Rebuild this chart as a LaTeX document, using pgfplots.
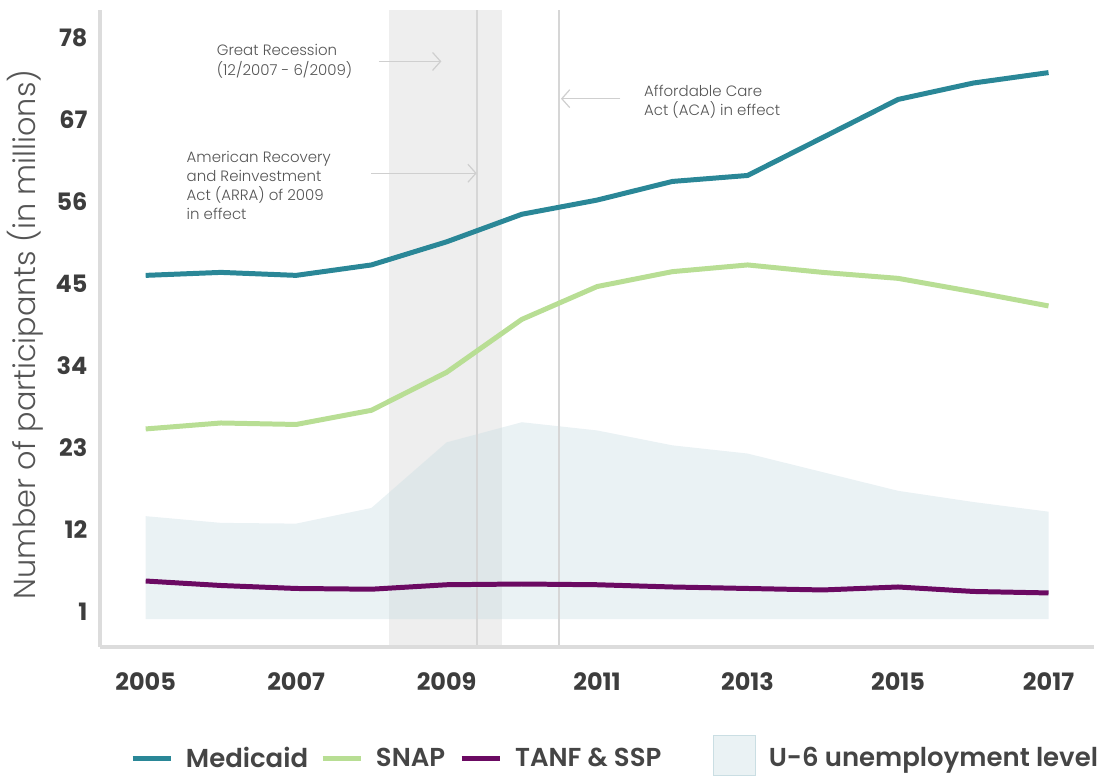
\documentclass[border=0pt]{standalone}
\usepackage{fontspec}
\setmainfont{Poppins}
\newfontfamily\lightfont{Poppins}[UprightFont={* Light}]
\newfontfamily\semifont{Poppins}[UprightFont={* SemiBold}]
\usepackage{pgfplots}
\pgfplotsset{compat=1.18}
\usetikzlibrary{arrows.meta}
\definecolor{medicaid}{HTML}{2A8797}
\definecolor{snap}{HTML}{B8DE94}
\definecolor{tanf}{HTML}{6B0A62}
\definecolor{uarea}{HTML}{CADEE3}
\definecolor{shade}{HTML}{EEEEEE}
\definecolor{vline}{HTML}{D6D6D6}
\definecolor{axisgrey}{HTML}{DCDCDC}
\definecolor{ticktext}{HTML}{3D3D3D}
\definecolor{annot}{HTML}{555555}
\definecolor{legtext}{HTML}{454545}
\definecolor{arrowgrey}{HTML}{CFCFCF}
\begin{document}
\begin{tikzpicture}
\begin{axis}[
  scale only axis, width=498pt, height=319pt,
  xmin=2004.39, xmax=2017.6, ymin=-3.7, ymax=81.7,
  axis x line*=bottom, axis y line*=left,
  axis line style={draw=axisgrey, line width=2pt, -},
  axis on top,
  xtick={2005,2007,2009,2011,2013,2015,2017},
  xticklabels={2005,2007,2009,2011,2013,2015,2017},
  ytick={1,12,23,34,45,56,67,78},
  yticklabels={1,12,23,34,45,56,67,78},
  major tick length=0pt,
  /pgf/number format/assume math mode=true,
  tick label style={font=\fontsize{12}{14}\selectfont\bfseries, text=ticktext},
  xticklabel style={anchor=center, yshift=-17.5pt},
  yticklabel style={anchor=east, xshift=-2.7pt},
  ylabel={Number of participants (in millions)},
  ylabel style={at={(axis description cs:-0.0753,0.49)}, anchor=center, font=\lightfont\fontsize{15.2}{17}\selectfont, text=annot},
  clip=false,
  legend columns=4,
  legend style={at={(axis description cs:0.0301,-0.1708)}, anchor=west, draw=none, fill=none, inner sep=0pt,
    font=\semifont\fontsize{13}{15}\selectfont, text=legtext,
    /tikz/every odd column/.style={column sep=4.5pt},
    /tikz/column 2/.style={column sep=4pt},
    /tikz/column 4/.style={column sep=5pt},
    /tikz/column 6/.style={column sep=24pt}},
  legend image code/.code={\draw[#1] (0pt,0pt) -- (19pt,0pt);},
]
% recession shading
\addplot[fill=shade, draw=none, forget plot] coordinates {(2008.23,-3.7) (2009.73,-3.7) (2009.73,81.7) (2008.23,81.7)};
% U-6 unemployment area
\addplot[fill=uarea, fill opacity=0.4, draw=none, forget plot] coordinates {
 (2005,0) (2005,13.8) (2006,12.9) (2007,12.8) (2008,14.9) (2009,23.7) (2010,26.4) (2011,25.3)
 (2012,23.3) (2013,22.2) (2014,19.7) (2015,17.2) (2016,15.7) (2017,14.4) (2017,0)};
% event lines
\addplot[vline, line width=1pt, forget plot] coordinates {(2009.40,-3.7) (2009.40,81.7)};
\addplot[vline, line width=1pt, forget plot] coordinates {(2010.49,-3.7) (2010.49,81.7)};
% series
\addplot[medicaid, line width=2.5pt] coordinates {
 (2005,46.1) (2006,46.5) (2007,46.1) (2008,47.5) (2009,50.6) (2010,54.3) (2011,56.2)
 (2012,58.7) (2013,59.5) (2014,64.6) (2015,69.7) (2016,71.9) (2017,73.3)};
\addlegendentry{Medicaid}
\addplot[snap, line width=2.5pt] coordinates {
 (2005,25.5) (2006,26.3) (2007,26.1) (2008,28.0) (2009,33.1) (2010,40.2) (2011,44.6)
 (2012,46.6) (2013,47.5) (2014,46.5) (2015,45.7) (2016,43.9) (2017,42.0)};
\addlegendentry{SNAP}
\addplot[tanf, line width=2.5pt] coordinates {
 (2005,5.1) (2006,4.5) (2007,4.1) (2008,4.0) (2009,4.6) (2010,4.7) (2011,4.6)
 (2012,4.3) (2013,4.1) (2014,3.9) (2015,4.3) (2016,3.7) (2017,3.5)};
\addlegendentry{TANF \& SSP}
\addlegendimage{legend image code/.code={\fill[uarea, fill opacity=0.4] (0pt,-8.5pt) rectangle (21pt,11.5pt);}}
\addlegendentry{U-6 unemployment level}
% annotations
\node[anchor=west, align=left, font=\lightfont\fontsize{7.5}{10}\selectfont, text=annot, inner sep=0pt] at (axis cs:2005.94,74.8) {Great Recession\\(12/2007 - 6/2009)};
\draw[arrowgrey, line width=0.6pt, -{Straight Barb[length=4pt,width=9pt]}] (axis cs:2008.10,74.8) -- (axis cs:2008.93,74.8);
\node[anchor=west, align=left, font=\lightfont\fontsize{7.5}{9.5}\selectfont, text=annot, inner sep=0pt] at (axis cs:2005.54,58.2) {American Recovery\\and Reinvestment\\Act (ARRA) of 2009\\in effect};
\draw[arrowgrey, line width=0.6pt, -{Straight Barb[length=4pt,width=9pt]}] (axis cs:2008.0,59.8) -- (axis cs:2009.40,59.8);
\node[anchor=west, align=left, font=\lightfont\fontsize{7.5}{9.5}\selectfont, text=annot, inner sep=0pt] at (axis cs:2011.62,69.4) {Affordable Care\\Act (ACA) in effect};
\draw[arrowgrey, line width=0.6pt, -{Straight Barb[length=4pt,width=9pt]}] (axis cs:2011.31,69.8) -- (axis cs:2010.52,69.8);
% bounding box
\path (axis description cs:-0.1004,-0.1944) rectangle (axis description cs:1.006,1.0157);
\end{axis}
\end{tikzpicture}
\end{document}
